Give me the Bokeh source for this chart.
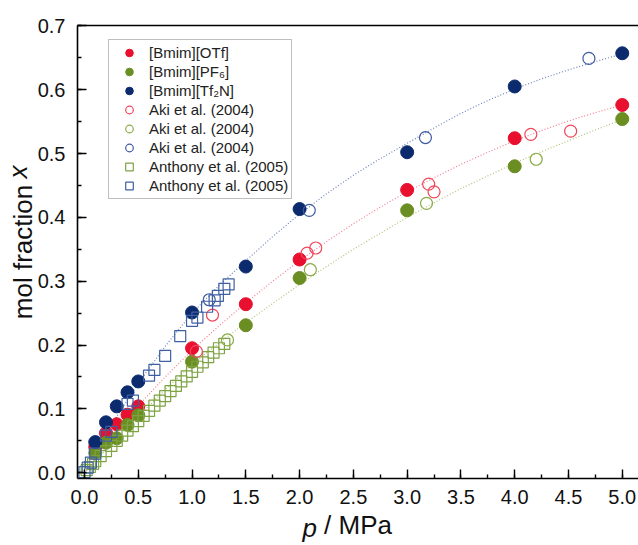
from bokeh.plotting import figure
from bokeh.models import (Range1d, SingleIntervalTicker, PrintfTickFormatter, Legend,
                          LegendItem, LinearAxis, FixedTicker)
from bokeh.embed import file_html
from bokeh.resources import INLINE

# ---------------- data ----------------
p_lab = [0.1, 0.2, 0.3, 0.4, 0.5, 1.0, 1.5, 2.0, 3.0, 4.0, 5.0]
otf_x = [0.040, 0.062, 0.076, 0.091, 0.104, 0.195, 0.264, 0.334, 0.443, 0.524, 0.576]
pf6_x = [0.031, 0.047, 0.054, 0.075, 0.090, 0.174, 0.231, 0.305, 0.411, 0.480, 0.554]
tf2n_x = [0.048, 0.079, 0.104, 0.126, 0.143, 0.251, 0.323, 0.413, 0.502, 0.605, 0.657]

aki_otf_p = [1.04, 1.19, 2.07, 2.15, 3.20, 3.25, 4.15, 4.52]
aki_otf_x = [0.190, 0.247, 0.344, 0.352, 0.452, 0.440, 0.530, 0.535]
aki_pf6_p = [1.33, 2.10, 3.18, 4.20]
aki_pf6_x = [0.208, 0.318, 0.422, 0.491]
aki_tf2n_p = [1.16, 2.09, 3.17, 4.69]
aki_tf2n_x = [0.271, 0.411, 0.525, 0.649]

ant_pf6_p = [0.02, 0.05, 0.08, 0.10, 0.15, 0.20, 0.25, 0.30, 0.35, 0.40, 0.45, 0.50, 0.55, 0.60,
             0.65, 0.70, 0.75, 0.80, 0.85, 0.90, 0.95, 1.00, 1.05, 1.10, 1.15, 1.20, 1.25, 1.30]
ant_pf6_x = [0.004, 0.009, 0.014, 0.018, 0.026, 0.034, 0.042, 0.050, 0.058, 0.066, 0.073, 0.081,
             0.089, 0.097, 0.105, 0.113, 0.120, 0.128, 0.136, 0.143, 0.151, 0.158, 0.166, 0.173,
             0.181, 0.188, 0.195, 0.202]
ant_tf2n_p = [0.00, 0.03, 0.06, 0.10, 0.20, 0.25, 0.40, 0.45, 0.60, 0.65, 0.75, 0.89, 1.00, 1.05,
              1.14, 1.21, 1.24, 1.30, 1.34]
ant_tf2n_x = [0.001, 0.008, 0.016, 0.030, 0.058, 0.064, 0.108, 0.113, 0.152, 0.161, 0.183, 0.214,
              0.238, 0.243, 0.260, 0.270, 0.277, 0.288, 0.295]

fit_p = [0.0, 0.25, 0.5, 0.75, 1.0, 1.25, 1.5, 1.75, 2.0, 2.25, 2.5, 2.75, 3.0, 3.25, 3.5,
         3.75, 4.0, 4.25, 4.5, 4.75, 5.0]
fit_tf2n = [0.0, 0.075, 0.140, 0.198, 0.250, 0.293, 0.332, 0.370, 0.405, 0.437, 0.466, 0.492,
            0.516, 0.540, 0.563, 0.583, 0.601, 0.617, 0.631, 0.644, 0.656]
fit_otf = [0.0, 0.055, 0.105, 0.150, 0.192, 0.230, 0.266, 0.300, 0.332, 0.362, 0.390, 0.416,
           0.440, 0.462, 0.483, 0.502, 0.520, 0.536, 0.551, 0.564, 0.576]
fit_pf6 = [0.0, 0.045, 0.088, 0.130, 0.170, 0.203, 0.235, 0.265, 0.295, 0.323, 0.350, 0.375,
           0.400, 0.423, 0.445, 0.465, 0.485, 0.503, 0.520, 0.537, 0.553]

x_ticks_interval = 0.5
y_ticks_interval = 0.1

x_title = "/ MPa"
x_title_italic = "p"
y_title = "mol fraction"
y_title_italic = "x"

RED = "#e8102e"
GREEN = "#6b8e23"
NAVY = "#0c2b6e"
RED_O = "#f0475a"
GREEN_O = "#8aab46"
BLUE_O = "#3d5a9e"
GREEN_S = "#7ea343"
BLUE_S = "#3f5fa3"
FONT = "Liberation Sans"
TSIZE = "26px"

p = figure(width=638, height=545, x_range=Range1d(-0.065, 5.151), y_range=Range1d(-0.009, 0.7005),
           output_backend="svg", toolbar_location=None,
           min_border_left=76, min_border_right=0, min_border_top=25, min_border_bottom=66)
p.outline_line_color = None
p.xgrid.visible = False
p.ygrid.visible = False
p.background_fill_color = "white"

for ax, interval in ((p.xaxis[0], x_ticks_interval), (p.yaxis[0], y_ticks_interval)):
    ax.ticker = SingleIntervalTicker(interval=interval, num_minor_ticks=2)
    ax.formatter = PrintfTickFormatter(format="%.1f")
    ax.axis_line_width = 1.6
    ax.axis_line_color = "black"
    ax.major_tick_in = 9
    ax.major_tick_out = 0
    ax.minor_tick_in = 4
    ax.minor_tick_out = 0
    ax.major_tick_line_width = 1.4
    ax.minor_tick_line_width = 1.4
    ax.major_tick_line_color = "black"
    ax.minor_tick_line_color = "black"
    ax.major_label_text_font = FONT
    ax.major_label_text_font_size = "20px"
    ax.major_label_text_color = "#111111"
    ax.axis_label_text_font = FONT
    ax.axis_label_text_font_size = TSIZE
    ax.axis_label_text_font_style = "normal"
    ax.axis_label_text_color = "#111111"
p.xaxis.major_label_standoff = 11
p.yaxis.major_label_standoff = 12
p.xaxis.axis_label = x_title
p.yaxis.axis_label = y_title
p.xaxis.axis_label_standoff = 3
p.yaxis.axis_label_standoff = -3

top = LinearAxis(ticker=FixedTicker(ticks=[]), axis_line_width=1.6, axis_line_color="black",
                 major_label_text_font_size="0px", major_tick_line_color=None,
                 minor_tick_line_color=None)
p.add_layout(top, "above")

# italic parts of the axis titles, as single-label axes placed on the title line
px_pos = 2.094
ax_p = LinearAxis(ticker=FixedTicker(ticks=[px_pos]), major_label_overrides={px_pos: x_title_italic},
                  axis_line_color=None, major_tick_line_color=None, minor_tick_line_color=None,
                  major_tick_in=0, major_tick_out=0, minor_tick_in=0, minor_tick_out=0,
                  major_label_text_font=FONT, major_label_text_font_style="italic",
                  major_label_text_font_size=TSIZE, major_label_text_color="#111111",
                  major_label_standoff=-30)
p.add_layout(ax_p, "below")

yx_pos = 0.471
ax_x = LinearAxis(ticker=FixedTicker(ticks=[yx_pos]), major_label_overrides={yx_pos: y_title_italic},
                  axis_line_color=None, major_tick_line_color=None, minor_tick_line_color=None,
                  major_tick_in=0, major_tick_out=0, minor_tick_in=0, minor_tick_out=0,
                  major_label_text_font=FONT, major_label_text_font_style="italic",
                  major_label_text_font_size=TSIZE, major_label_text_color="#111111",
                  major_label_orientation="vertical", major_label_standoff=-29)
p.add_layout(ax_x, "left")

# fit curves
p.line(fit_p, fit_tf2n, line_color="#6f82bb", line_width=1.2, line_dash="1 2")
p.line(fit_p, fit_otf, line_color="#f27e8f", line_width=1.2, line_dash="1 2")
p.line(fit_p, fit_pf6, line_color="#b0c47a", line_width=1.2, line_dash="1 2")

r1 = p.scatter(p_lab, otf_x, marker="circle", size=13, fill_color=RED, line_color=RED)
r2 = p.scatter(p_lab, pf6_x, marker="circle", size=13, fill_color=GREEN, line_color=GREEN)
r3 = p.scatter(p_lab, tf2n_x, marker="circle", size=13, fill_color=NAVY, line_color=NAVY)
r7 = p.scatter(ant_pf6_p, ant_pf6_x, marker="square", size=11, fill_color=None,
               line_color=GREEN_S, line_width=1.2)
r4 = p.scatter(aki_otf_p, aki_otf_x, marker="circle", size=12, fill_color=None,
               line_color=RED_O, line_width=1.2)
r5 = p.scatter(aki_pf6_p, aki_pf6_x, marker="circle", size=12, fill_color=None,
               line_color=GREEN_O, line_width=1.2)
r6 = p.scatter(aki_tf2n_p, aki_tf2n_x, marker="circle", size=12, fill_color=None,
               line_color=BLUE_O, line_width=1.2)
r8 = p.scatter(ant_tf2n_p, ant_tf2n_x, marker="square", size=11, fill_color=None,
               line_color=BLUE_S, line_width=1.2)

legend = Legend(items=[
    LegendItem(label="[Bmim][OTf]", renderers=[r1]),
    LegendItem(label="[Bmim][PF\u2086]", renderers=[r2]),
    LegendItem(label="[Bmim][Tf\u2082N]", renderers=[r3]),
    LegendItem(label="Aki et al. (2004)", renderers=[r4]),
    LegendItem(label="Aki et al. (2004)", renderers=[r5]),
    LegendItem(label="Aki et al. (2004)", renderers=[r6]),
    LegendItem(label="Anthony et al. (2005)", renderers=[r7]),
    LegendItem(label="Anthony et al. (2005)", renderers=[r8]),
], location=(31, 279))
legend.label_text_font = FONT
legend.label_text_font_size = "15px"
legend.label_text_color = "#222222"
legend.glyph_width = 34
legend.glyph_height = 19
legend.label_height = 19
legend.label_standoff = 3
legend.padding = 3
legend.spacing = 0
legend.margin = 0
legend.border_line_color = "#808080"
legend.border_line_width = 1
legend.background_fill_color = "white"
legend.background_fill_alpha = 1
p.add_layout(legend, "center")

open("out.html", "w").write(file_html(p, INLINE))
